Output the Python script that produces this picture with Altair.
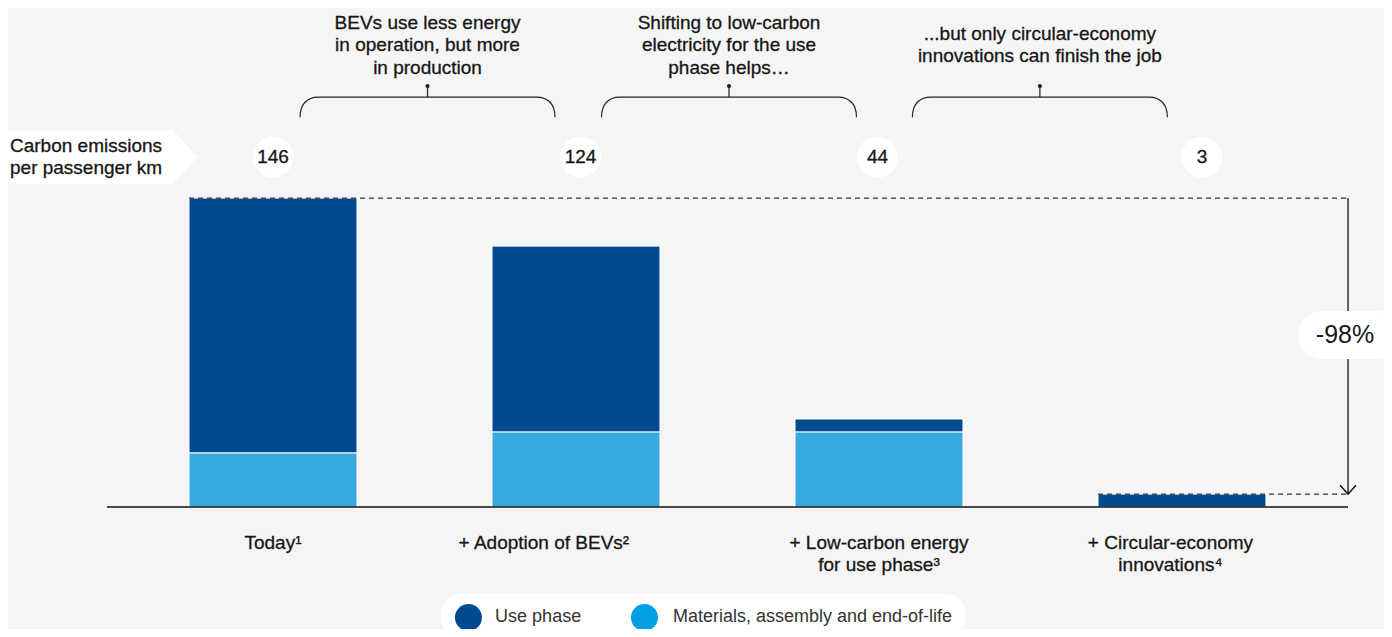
import altair as alt
import pandas as pd

# ---------------- data ----------------
cat_index = [0, 1, 2, 3]
cat_label_x = [0.0, 0.894, 2.0, 2.962]
cat_line1 = ["Today¹", "+ Adoption of BEVs²", "+ Low-carbon energy", "+ Circular-economy"]
cat_line2 = ["", "", "for use phase³", "innovations⁴"]
use_phase = [120.5, 87.9, 6.2, 6.1]
materials = [25.5, 35.4, 35.4, 0.0]
total_labels = ["146", "124", "44", "3"]
total_label_x = [0.0, 1.015, 1.995, 3.066]

step_x = [0.51, 1.505, 2.531]
step_text = [
    ["BEVs use less energy", "in operation, but more", "in production"],
    ["Shifting to low-carbon", "electricity for the use", "phase helps…"],
    ["...but only circular-economy", "innovations can finish the job"],
]
unit_label = ["Carbon emissions", "per passenger km"]
reduction_label = "-98%"
legend_names = ["Use phase", "Materials, assembly and end-of-life"]

# ---------------- style / layout ----------------
DARK = "#004b8f"
LIGHT = "#38a9df"
LEG_LIGHT = "#00a0e2"
BG = "#f5f5f5"
TXT = "#161616"
FONT = "Liberation Sans"
W, H = 1376, 621
XD = [-0.8746, 3.6667]
YD = [-57.66, 235.82]
HALF = 0.2772
RIGHT = 3.548
LEFT = -0.548

xs = alt.Scale(domain=XD, nice=False, zero=False)
ys = alt.Scale(domain=YD, nice=False, zero=False)


def X(f):
    return alt.X(f, type="quantitative", scale=xs, axis=None)


def Y(f):
    return alt.Y(f, type="quantitative", scale=ys, axis=None)


bars = pd.DataFrame({"i": cat_index, "use": use_phase, "mat": materials})
bars["x0"] = bars["i"] - HALF
bars["x1"] = bars["i"] + HALF
bars["top"] = bars["mat"] + bars["use"]
bars["zero"] = 0.0

total_max = float(bars["top"].iloc[0])
total_min = float(bars["top"].iloc[-1])

base = alt.Chart(bars)

use_bars = base.mark_rect(color=DARK, stroke="white", strokeWidth=1).encode(
    x=X("x0"), x2="x1", y=Y("mat"), y2="top")
mat_bars = base.transform_filter("datum.mat > 0").mark_rect(
    color=LIGHT, stroke="white", strokeWidth=1).encode(
    x=X("x0"), x2="x1", y=Y("zero"), y2="mat")

baseline = alt.Chart(pd.DataFrame({"a": [LEFT], "b": [RIGHT], "y": [0.0]})).mark_rule(
    color="#111", strokeWidth=1.6).encode(x=X("a"), x2="b", y=Y("y"))

dashes = alt.Chart(pd.DataFrame({
    "a": [-HALF, 3 - HALF], "b": [RIGHT, RIGHT], "y": [total_max, total_min]})).mark_rule(
    color="#333", strokeWidth=1.2, strokeDash=[5, 4]).encode(x=X("a"), x2="b", y=Y("y"))

arrow_line = alt.Chart(pd.DataFrame({"x": [RIGHT], "y": [total_max], "y2": [total_min]})).mark_rule(
    color="#111", strokeWidth=1.3).encode(x=X("x"), y=Y("y"), y2="y2")
arrow_head = alt.Chart(pd.DataFrame({"x": [RIGHT], "y": [total_min]})).mark_point(
    shape="M-1,-1.1L0,0L1,-1.1", size=256, filled=False, color="#111",
    strokeWidth=1.4, opacity=1).encode(x=X("x"), y=Y("y"))

pill = alt.Chart(pd.DataFrame({"a": [3.383], "b": [3.72], "y": [69.9], "y2": [92.6]})).mark_rect(
    color="white", cornerRadius=24).encode(x=X("a"), x2="b", y=Y("y"), y2="y2")
pill_txt = alt.Chart(pd.DataFrame({"x": [3.538], "y": [81.3], "t": [reduction_label]})).mark_text(
    font=FONT, fontSize=25, color=TXT, align="center", baseline="middle").encode(
    x=X("x"), y=Y("y"), text="t")

# unit label box
box = alt.Chart(pd.DataFrame({"a": [XD[0]], "b": [-0.329], "y": [152.6], "y2": [178.1]})).mark_rect(
    color="white").encode(x=X("a"), x2="b", y=Y("y"), y2="y2")
box_tip = alt.Chart(pd.DataFrame({"x": [-0.330], "y": [165.4]})).mark_point(
    shape="M0,-1L0.9,0L0,1Z", size=2916, filled=True, color="white", opacity=1,
    strokeWidth=0).encode(x=X("x"), y=Y("y"))
box_txt = alt.Chart(pd.DataFrame({"x": [-0.868, -0.868], "y": [170.6, 160.2], "t": unit_label})).mark_text(
    font=FONT, fontSize=19, color=TXT, align="left", baseline="middle",
    stroke=TXT, strokeWidth=0.3).encode(x=X("x"), y=Y("y"), text="t")

# total bubbles
bub = pd.DataFrame({"x": total_label_x, "y": [165.4] * 4, "t": total_labels})
bubbles = alt.Chart(bub).mark_point(shape="circle", size=1681, filled=True, color="white",
                                    opacity=1, strokeWidth=0).encode(x=X("x"), y=Y("y"))
bubble_txt = alt.Chart(bub).mark_text(font=FONT, fontSize=19, color=TXT, align="center",
                                      baseline="middle", stroke=TXT, strokeWidth=0.3).encode(
    x=X("x"), y=Y("y"), text="t")

# braces
br = pd.DataFrame({"x": step_x, "y": [193.7] * 3, "yd": [198.9] * 3})
braces = alt.Chart(br).mark_point(
    shape="M-1,0.157C-1,0.06 -0.95,0 -0.855,0L0.855,0C0.95,0 1,0.06 1,0.157M0,0L0,-0.086",
    size=65025, filled=False, color="#222", strokeWidth=1.2, opacity=1).encode(
    x=X("x"), y=Y("y"))
brace_dots = alt.Chart(br).mark_point(shape="circle", size=18, filled=True, color="#222",
                                      opacity=1).encode(x=X("x"), y=Y("yd"))

rows = []
for sx, lines in zip(step_x, step_text):
    ylist = [228.9, 218.3, 207.7] if len(lines) == 3 else [223.5, 212.9]
    for yv, t in zip(ylist, lines):
        rows.append({"x": sx, "y": yv, "t": t})
step_lbl = alt.Chart(pd.DataFrame(rows)).mark_text(
    font=FONT, fontSize=19, color=TXT, align="center", baseline="middle",
    stroke=TXT, strokeWidth=0.3).encode(x=X("x"), y=Y("y"), text="t")

# category labels
crow = []
for lx, l1, l2 in zip(cat_label_x, cat_line1, cat_line2):
    crow.append({"x": lx, "y": -17.0, "t": l1})
    if l2:
        crow.append({"x": lx, "y": -27.4, "t": l2})
cat_lbl = alt.Chart(pd.DataFrame(crow)).mark_text(
    font=FONT, fontSize=19, color=TXT, align="center", baseline="middle",
    stroke=TXT, strokeWidth=0.3).encode(x=X("x"), y=Y("y"), text="t")

# legend
leg_bg = alt.Chart(pd.DataFrame({"a": [0.554], "b": [2.287], "y": [-41.1], "y2": [-62.0]})).mark_rect(
    color="white", cornerRadius=20).encode(x=X("a"), x2="b", y=Y("y"), y2="y2")
leg = pd.DataFrame({"name": legend_names, "cx": [0.645, 1.226], "tx": [0.733, 1.320],
                    "y": [-52.2, -52.2]})
leg_dots = alt.Chart(leg).mark_point(shape="circle", size=729, filled=True, opacity=1,
                                     strokeWidth=0).encode(
    x=X("cx"), y=Y("y"),
    color=alt.Color("name:N", scale=alt.Scale(domain=legend_names, range=[DARK, LEG_LIGHT]),
                    legend=None))
leg_txt = alt.Chart(leg).mark_text(font=FONT, fontSize=18, color="#333", align="left",
                                   baseline="middle").encode(x=X("tx"), y=Y("y"), text="name")

chart = alt.layer(
    use_bars, mat_bars, baseline, dashes, arrow_line, arrow_head, pill, pill_txt,
    box, box_tip, box_txt, bubbles, bubble_txt, braces, brace_dots, step_lbl, cat_lbl,
    leg_bg, leg_dots, leg_txt,
).properties(
    width=W, height=H, background=BG, padding=0,
    autosize=alt.AutoSizeParams(type="none"),
).configure_view(stroke=None)

chart.save("out.html", embed_options={"renderer": "svg", "actions": False})
